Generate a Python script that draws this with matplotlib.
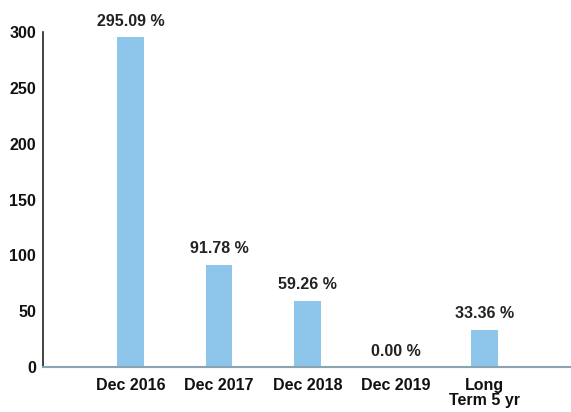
import matplotlib.pyplot as plt

# data
categories = ["Dec 2016", "Dec 2017", "Dec 2018", "Dec 2019", "Long\nTerm 5 yr"]
values = [295.09, 91.78, 59.26, 0.00, 33.36]
yticks = [0, 50, 100, 150, 200, 250, 300]

plt.rcParams["font.family"] = ["Liberation Sans", "DejaVu Sans"]

fig = plt.figure(figsize=(5.71, 4.12), dpi=100)
ax = fig.add_axes([43 / 571, 45 / 412, 528 / 571, 335 / 412])

x = list(range(len(categories)))
ax.bar(x, values, width=0.3, color="#8ec5ea", zorder=2)

for xi, v in zip(x, values):
    ax.annotate(f"{v:.2f} %", (xi, v), xytext=(0, 6), textcoords="offset points",
                ha="center", va="bottom", fontsize=11.5, fontweight="bold",
                color="#222222")

ax.set_xlim(-0.99, 4.98)
ax.set_ylim(0, 300)
ax.set_xticks(x)
ax.set_xticklabels(categories, fontsize=11.5, fontweight="bold", color="#111111",
                   linespacing=1.0)
ax.set_yticks(yticks)
ax.set_yticklabels([str(t) for t in yticks], fontsize=11.5, fontweight="bold",
                   color="#111111")
ax.tick_params(axis="y", length=0, pad=5)
ax.tick_params(axis="x", length=0, pad=8)

for side in ["top", "right"]:
    ax.spines[side].set_visible(False)
ax.spines["left"].set_color("#222222")
ax.spines["left"].set_linewidth(1.2)
ax.spines["bottom"].set_color("#8aa4b4")
ax.spines["bottom"].set_linewidth(1.5)

fig.savefig("out.png", dpi=100)
